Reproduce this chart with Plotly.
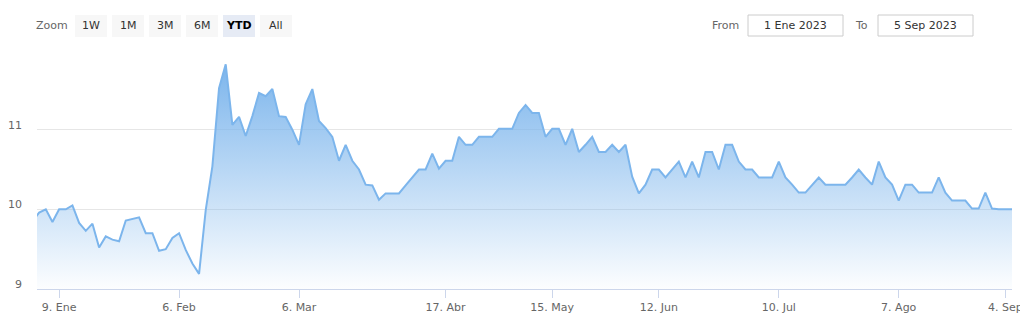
import plotly.graph_objects as go

# ---- data ----
values = [
    9.85, 9.96, 10.00, 9.84, 10.00, 10.00, 10.05, 9.83, 9.73, 9.82,
    9.52, 9.66, 9.62, 9.60, 9.86, 9.88, 9.90, 9.70, 9.70, 9.48,
    9.50, 9.64, 9.70, 9.49, 9.32, 9.19, 9.99, 10.54, 11.52, 11.82,
    11.06, 11.16, 10.92, 11.17, 11.46, 11.42, 11.51, 11.17, 11.16, 11.00,
    10.81, 11.32, 11.51, 11.11, 11.02, 10.91, 10.61, 10.81, 10.61, 10.50,
    10.31, 10.30, 10.12, 10.20, 10.20, 10.20, 10.30, 10.40, 10.50, 10.50,
    10.70, 10.51, 10.61, 10.61, 10.91, 10.81, 10.81, 10.91, 10.91, 10.91,
    11.01, 11.01, 11.01, 11.21, 11.31, 11.21, 11.21, 10.91, 11.01, 11.01,
    10.81, 11.01, 10.72, 10.81, 10.91, 10.72, 10.72, 10.81, 10.72, 10.81,
    10.41, 10.20, 10.31, 10.50, 10.50, 10.40, 10.50, 10.60, 10.40, 10.60,
    10.40, 10.72, 10.72, 10.50, 10.81, 10.81, 10.60, 10.50, 10.50, 10.40,
    10.40, 10.40, 10.60, 10.40, 10.31, 10.21, 10.21, 10.31, 10.40, 10.31,
    10.31, 10.31, 10.31, 10.40, 10.50, 10.40, 10.31, 10.60, 10.40, 10.31,
    10.11, 10.31, 10.31, 10.21, 10.21, 10.21, 10.40, 10.21, 10.11, 10.11,
    10.11, 10.01, 10.01, 10.21, 10.01, 10.00, 10.00, 10.00,
]
point_index = list(range(len(values)))

tick_points = [4, 22, 40, 62, 78, 94, 112, 130, 146]
tick_labels = ["9. Ene", "6. Feb", "6. Mar", "17. Abr", "15. May",
               "12. Jun", "10. Jul", "7. Ago", "4. Sep"]

y_ticks = [9, 10, 11, 12]
y_tick_labels = ["9", "10", "11", ""]

zoom_buttons = ["1W", "1M", "3M", "6M", "YTD", "All"]
selected_button = "YTD"
from_date = "1 Ene 2023"
to_date = "5 Sep 2023"

# ---- layout geometry ----
W, H = 1020, 319
ML, MR, MT, MB = 37, 8, 50, 30
PW, PH = W - ML - MR, H - MT - MB

def px2x(px):
    return (px - ML) / PW

def px2y(py):
    return (H - MB - py) / PH

FONT = "DejaVu Sans"
BLUE = "#7cb5ec"

fig = go.Figure()
fig.add_trace(go.Scatter(
    x=point_index, y=values, mode="lines",
    line=dict(color=BLUE, width=2),
    fill="tozeroy",
    fillgradient=dict(type="vertical",
                      colorscale=[[0, "rgba(124,181,236,0.02)"], [1, "rgba(124,181,236,1)"]],
                      start=9, stop=max(values)),
    hoverinfo="skip", showlegend=False,
))

shapes = []
annotations = []

# Zoom label + buttons
annotations.append(dict(text="Zoom", x=px2x(70), y=px2y(26), xref="paper", yref="paper",
                        xanchor="right", yanchor="middle", showarrow=False,
                        font=dict(family=FONT, size=11, color="#666666")))
bx = 75
for b in zoom_buttons:
    sel = b == selected_button
    shapes.append(dict(type="rect", xref="paper", yref="paper",
                       x0=px2x(bx), x1=px2x(bx + 32), y0=px2y(37), y1=px2y(15),
                       fillcolor="#e6ebf5" if sel else "#f7f7f7", line=dict(width=0), layer="above"))
    annotations.append(dict(text=("<b>%s</b>" % b) if sel else b,
                            x=px2x(bx + 16), y=px2y(26), xref="paper", yref="paper",
                            xanchor="center", yanchor="middle", showarrow=False,
                            font=dict(family=FONT, size=11, color="#000000" if sel else "#333333")))
    bx += 37

# From / To inputs
annotations.append(dict(text="From", x=px2x(741), y=px2y(26), xref="paper", yref="paper",
                        xanchor="right", yanchor="middle", showarrow=False,
                        font=dict(family=FONT, size=11, color="#666666")))
annotations.append(dict(text="To", x=px2x(870), y=px2y(26), xref="paper", yref="paper",
                        xanchor="right", yanchor="middle", showarrow=False,
                        font=dict(family=FONT, size=11, color="#666666")))
for (x0, x1, txt) in [(748, 843, from_date), (878, 973, to_date)]:
    shapes.append(dict(type="rect", xref="paper", yref="paper",
                       x0=px2x(x0), x1=px2x(x1), y0=px2y(36), y1=px2y(15),
                       fillcolor="#ffffff", line=dict(color="#cccccc", width=1), layer="above"))
    annotations.append(dict(text=txt, x=px2x((x0 + x1) / 2), y=px2y(26), xref="paper", yref="paper",
                            xanchor="center", yanchor="middle", showarrow=False,
                            font=dict(family=FONT, size=11, color="#333333")))

fig.update_layout(
    width=W, height=H,
    margin=dict(l=ML, r=MR, t=MT, b=MB),
    paper_bgcolor="#ffffff", plot_bgcolor="#ffffff",
    font=dict(family=FONT, size=11, color="#666666"),
    shapes=shapes, annotations=annotations,
    xaxis=dict(range=[0.68, len(values) - 1], tickvals=tick_points, ticktext=tick_labels,
               showgrid=False, zeroline=False, showline=True, linecolor="#ccd6eb", linewidth=1,
               ticks="outside", ticklen=8, tickcolor="#ccd6eb", tickwidth=1,
               ticklabeloverflow="allow", automargin=False,
               tickfont=dict(family=FONT, size=11, color="#666666"), fixedrange=True),
    yaxis=dict(range=[9, 12], tickvals=y_ticks, ticktext=y_tick_labels,
               showgrid=True, gridcolor="#e6e6e6", gridwidth=1, zeroline=False, showline=False,
               ticks="", ticklabelstandoff=14, ticklabelshift=-5, automargin=False,
               tickfont=dict(family=FONT, size=11, color="#666666"), fixedrange=True),
)

fig.write_html("out.html", config={"displayModeBar": False})
